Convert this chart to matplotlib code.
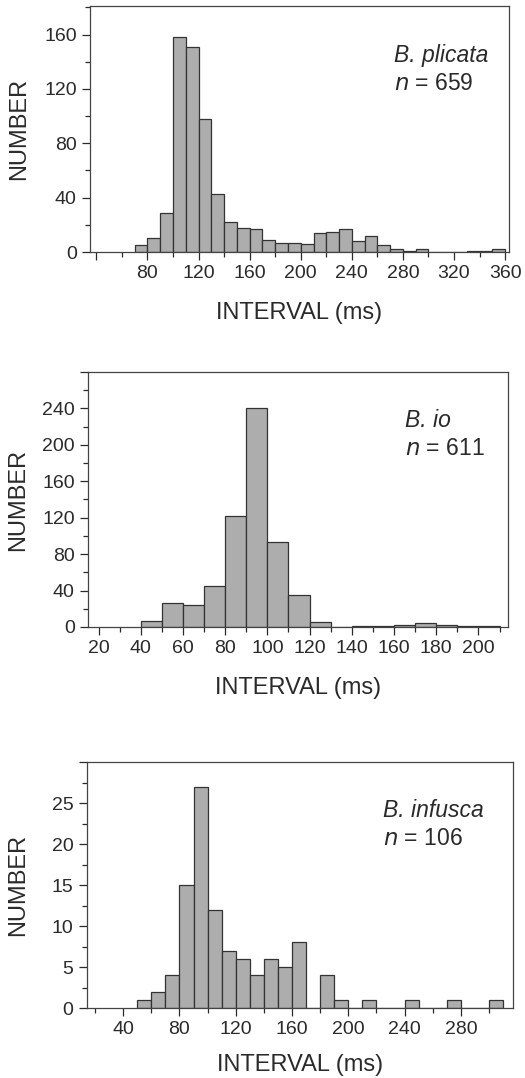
import numpy as np
import matplotlib
matplotlib.use("Agg")
import matplotlib.pyplot as plt
from matplotlib.ticker import MultipleLocator, FuncFormatter

plt.rcParams['font.family'] = ['Liberation Sans', 'DejaVu Sans']

# bin left edges (ms), bin width 10 ms
plicata_edges = [70, 80, 90, 100, 110, 120, 130, 140, 150, 160, 170, 180, 190,
                 200, 210, 220, 230, 240, 250, 260, 270, 280, 290, 300, 310,
                 320, 330, 340, 350]
plicata_counts = [5, 10, 29, 158, 151, 98, 43, 22, 18, 17, 9, 7, 7,
                  6, 14, 15, 17, 8, 12, 5, 2, 1, 2, 0, 0,
                  0, 1, 1, 2]

io_edges = [40, 50, 60, 70, 80, 90, 100, 110, 120, 130, 140, 150, 160,
            170, 180, 190, 200]
io_counts = [7, 26, 24, 45, 122, 240, 93, 35, 5, 0, 1, 1, 2,
             4, 2, 1, 1]

infusca_edges = [50, 60, 70, 80, 90, 100, 110, 120, 130, 140, 150, 160, 170,
                 180, 190, 200, 210, 220, 230, 240, 250, 260, 270, 280, 290, 300]
infusca_counts = [1, 2, 4, 15, 27, 12, 7, 6, 4, 6, 5, 8, 0,
                  4, 1, 0, 1, 0, 0, 1, 0, 0, 1, 0, 0, 1]

panels = [
    dict(edges=plicata_edges, counts=plicata_counts, name="B. plicata", n=659,
         xlim=(35, 363), ylim=(0, 181), xmaj=40, xmin=20, ymaj=40, ymin=20,
         xlabels=[80, 120, 160, 200, 240, 280, 320, 360], ytop=160,
         rect=[0.1714, 0.7662, 0.798, 0.2282], txt=(0.725, 0.772), ylx=-0.143, pad=14.5),
    dict(edges=io_edges, counts=io_counts, name="B. io", n=611,
         xlim=(15, 214), ylim=(0, 280), xmaj=20, xmin=10, ymaj=40, ymin=20,
         xlabels=list(range(20, 201, 20)), ytop=240,
         rect=[0.1676, 0.4184, 0.800, 0.2365], txt=(0.755, 0.785), ylx=-0.140, pad=14.5),
    dict(edges=infusca_edges, counts=infusca_counts, name="B. infusca", n=106,
         xlim=(14, 317), ylim=(0, 30), xmaj=40, xmin=20, ymaj=5, ymin=2.5,
         xlabels=[40, 80, 120, 160, 200, 240, 280], ytop=25,
         rect=[0.165, 0.0649, 0.812, 0.2282], txt=(0.695, 0.775), ylx=-0.135, pad=11.5),
]

fig = plt.figure(figsize=(5.25, 10.78), dpi=100)
ink = '#2a2a2a'

for p in panels:
    ax = fig.add_axes(p['rect'])
    ax.bar(p['edges'], p['counts'], width=10, align='edge',
           color='#adadad', edgecolor='#333333', linewidth=0.9)
    ax.set_xlim(*p['xlim'])
    ax.set_ylim(*p['ylim'])
    ax.xaxis.set_major_locator(MultipleLocator(p['xmaj']))
    ax.xaxis.set_minor_locator(MultipleLocator(p['xmin']))
    ax.yaxis.set_major_locator(MultipleLocator(p['ymaj']))
    ax.yaxis.set_minor_locator(MultipleLocator(p['ymin']))
    ax.xaxis.set_major_formatter(
        FuncFormatter(lambda v, pos, lab=p['xlabels']: str(int(round(v))) if int(round(v)) in lab else ''))
    ax.yaxis.set_major_formatter(
        FuncFormatter(lambda v, pos, top=p['ytop']: '%g' % v if v <= top + 1e-6 else ''))
    ax.tick_params(which='both', direction='out', colors=ink, labelsize=14,
                   top=False, right=False, width=0.9)
    ax.tick_params(which='major', length=6)
    ax.tick_params(which='minor', length=3.5)
    for s in ax.spines.values():
        s.set_linewidth(0.9)
        s.set_color('#444444')
    ax.set_xlabel('INTERVAL (ms)', fontsize=17, color=ink, labelpad=p['pad'])
    ax.set_ylabel('NUMBER', fontsize=17, color=ink)
    ax.yaxis.set_label_coords(p['ylx'], 0.5)
    ax.text(p['txt'][0], p['txt'][1], p['name'], transform=ax.transAxes,
            fontsize=16.5, style='italic', color=ink)
    ax.text(p['txt'][0], p['txt'][1] - 0.112, r'$\mathit{n}$ = %d' % p['n'],
            transform=ax.transAxes, fontsize=16.5, color=ink)

fig.savefig('out.png', dpi=100)
